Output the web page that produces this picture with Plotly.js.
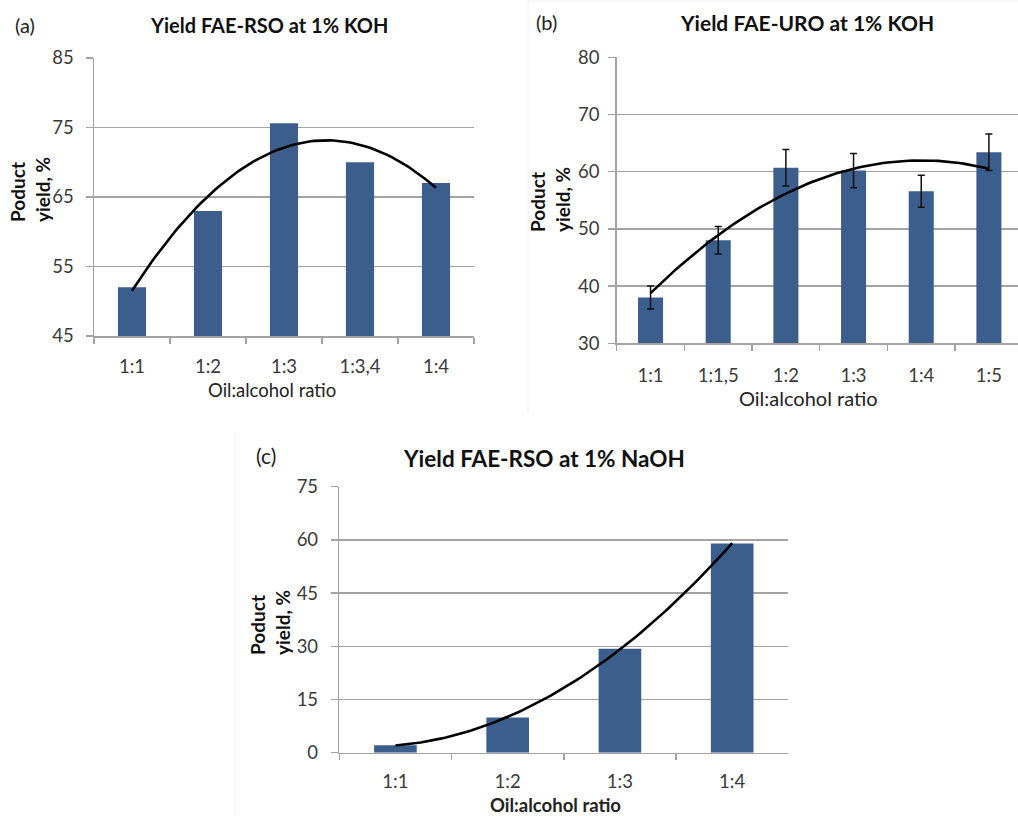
<!DOCTYPE html>
<html><head><meta charset="utf-8">
<script src="https://cdn.plot.ly/plotly-3.0.1.min.js"></script>
<style>html,body{margin:0;padding:0;background:#fff}</style>
</head><body><div id="chart" style="width:1018px;height:816px"></div>
<script>
// ---- data ----
const catsA = ['1:1', '1:2', '1:3', '1:3,4', '1:4'];
const yieldA = [52, 63, 75.6, 70, 67];

const catsB = ['1:1', '1:1,5', '1:2', '1:3', '1:4', '1:5'];
const yieldB = [38, 48, 60.7, 60.2, 56.6, 63.4];
const errB = [2, 2.4, 3.2, 3, 2.8, 3.2];

const catsC = ['1:1', '1:2', '1:3', '1:4'];
const yieldC = [2.1, 9.9, 29.3, 59];

const titleA = 'Yield FAE-RSO at 1% KOH';
const titleB = 'Yield FAE-URO at 1% KOH';
const titleC = 'Yield FAE-RSO at 1% NaOH';
const yTitle = 'Poduct<br>yield, %';
const xTitle = 'Oil:alcohol ratio';

// ---- 2nd-order polynomial trendline (least squares on the bar values) ----
function quadFit(y) {
  const n = y.length;
  let S = [0, 0, 0, 0, 0], T = [0, 0, 0];
  for (let i = 0; i < n; i++) {
    for (let p = 0; p < 5; p++) S[p] += Math.pow(i, p);
    for (let p = 0; p < 3; p++) T[p] += Math.pow(i, p) * y[i];
  }
  const M = [[S[0], S[1], S[2], T[0]], [S[1], S[2], S[3], T[1]], [S[2], S[3], S[4], T[2]]];
  for (let c = 0; c < 3; c++) {
    for (let r = c + 1; r < 3; r++) {
      const f = M[r][c] / M[c][c];
      for (let k = c; k < 4; k++) M[r][k] -= f * M[c][k];
    }
  }
  const x = [0, 0, 0];
  for (let r = 2; r >= 0; r--) {
    let s = M[r][3];
    for (let k = r + 1; k < 3; k++) s -= M[r][k] * x[k];
    x[r] = s / M[r][r];
  }
  return x;
}
function trend(y) {
  const c = quadFit(y), xs = [], ys = [];
  const steps = 80, last = y.length - 1;
  for (let i = 0; i <= steps; i++) {
    const t = last * i / steps;
    xs.push(t); ys.push(c[0] + c[1] * t + c[2] * t * t);
  }
  return {xs, ys};
}

const FONT = 'Lato, "Open Sans", sans-serif';
const BAR = '#3b5e8d';
const GRID = '#a3a3a3';
const TICKF = {family: FONT, size: 18.5, color: '#3a3a3a'};

const W = 1018, H = 816;
const px = v => v / W, py = v => 1 - v / H;

const tA = trend(yieldA), tB = trend(yieldB), tC = trend(yieldC);

const traces = [
  {type: 'bar', x: catsA, y: yieldA, xaxis: 'x', yaxis: 'y', width: 0.37,
   marker: {color: BAR}},
  {type: 'scatter', mode: 'lines', x: tA.xs, y: tA.ys, xaxis: 'x4', yaxis: 'y',
   line: {color: '#000', width: 2.6}},
  {type: 'bar', x: catsB, y: yieldB, xaxis: 'x2', yaxis: 'y2', width: 0.37,
   marker: {color: BAR},
   error_y: {type: 'data', array: errB, visible: true, color: '#111', thickness: 1.5, width: 3.5}},
  {type: 'scatter', mode: 'lines', x: tB.xs, y: tB.ys, xaxis: 'x5', yaxis: 'y2',
   line: {color: '#000', width: 2.6}},
  {type: 'bar', x: catsC, y: yieldC, xaxis: 'x3', yaxis: 'y3', width: 0.38,
   marker: {color: BAR}},
  {type: 'scatter', mode: 'lines', x: tC.xs, y: tC.ys, xaxis: 'x6', yaxis: 'y3',
   line: {color: '#000', width: 2.6}}
];

function xcat(domain, range, anchor, standoff) {
  return {type: 'category', domain, range, anchor, tickson: 'boundaries',
    ticks: 'outside', ticklen: 6, tickwidth: 1.5, tickcolor: GRID,
    showline: true, linecolor: GRID, linewidth: 1.5, showgrid: false,
    tickfont: TICKF, ticklabelstandoff: standoff, fixedrange: true};
}
function xover(over, range, anchor) {
  return {overlaying: over, range, anchor, visible: false, type: 'linear', fixedrange: true};
}
function ylin(domain, range, dtick, anchor, standoff) {
  return {domain, range, dtick, tick0: range[0], anchor, showgrid: true,
    gridcolor: GRID, gridwidth: 1.5, zeroline: false, showline: true,
    linecolor: GRID, linewidth: 1.5, ticks: 'outside', ticklen: 7, tickwidth: 1.5,
    tickcolor: GRID, tickfont: TICKF, ticklabelstandoff: standoff, fixedrange: true};
}

const rA = [-0.5, 4.5], rB = [-0.5, 5.43], rC = [-0.5, 3.5];

function note(text, x, y, size, extra) {
  return Object.assign({text, x: px(x), y: py(y), xref: 'paper', yref: 'paper',
    xanchor: 'center', yanchor: 'middle', showarrow: false,
    font: {family: FONT, size, color: '#111'}}, extra || {});
}

const layout = {
  width: W, height: H, margin: {l: 0, r: 0, t: 0, b: 0},
  paper_bgcolor: '#fff', plot_bgcolor: 'rgba(0,0,0,0)', showlegend: false,
  font: {family: FONT},
  xaxis: xcat([px(94), px(474)], rA, 'y', 13),
  yaxis: ylin([py(336), py(58)], [45, 85], 10, 'x', 8),
  xaxis2: xcat([px(616.7), 1], rB, 'y2', 15),
  yaxis2: ylin([py(343.3), py(57.3)], [30, 80], 10, 'x2', 5),
  xaxis3: xcat([px(339.3), px(788.3)], rC, 'y3', 12),
  yaxis3: ylin([py(752.7), py(486.7)], [0, 75], 15, 'x3', 9),
  xaxis4: xover('x', rA, 'y'),
  xaxis5: xover('x2', rB, 'y2'),
  xaxis6: xover('x3', rC, 'y3'),
  shapes: [
    {type: 'line', xref: 'paper', yref: 'paper', x0: px(528), x1: px(528), y0: py(1), y1: py(413),
     line: {color: '#f0f0f0', width: 1}},
    {type: 'line', xref: 'paper', yref: 'paper', x0: px(528), x1: 1, y0: py(1), y1: py(1),
     line: {color: '#f0f0f0', width: 1}},
    {type: 'line', xref: 'paper', yref: 'paper', x0: px(235), x1: px(235), y0: py(432), y1: py(816),
     line: {color: '#f3f3f3', width: 1}}
  ],
  annotations: [
    // panel labels
    note('(a)', 25, 25, 20, {font: {family: FONT, size: 20, color: '#222'}}),
    note('(b)', 546, 22, 20, {font: {family: FONT, size: 20, color: '#222'}}),
    note('(c)', 266, 455, 21, {font: {family: FONT, size: 21, color: '#222'}}),
    // titles
    note('<b>' + titleA + '</b>', 269, 25, 20),
    note('<b>' + titleB + '</b>', 807, 22, 21),
    note('<b>' + titleC + '</b>', 544, 458, 22.5),
    // y titles
    note('<b>' + yTitle + '</b>', 30, 190, 19, {textangle: -90, align: 'left'}),
    note('<b>' + yTitle + '</b>', 550, 200, 19, {textangle: -90, align: 'left'}),
    note('<b>' + yTitle + '</b>', 270, 623, 19, {textangle: -90, align: 'left'}),
    // x titles
    note(xTitle, 272, 390, 18.5, {font: {family: FONT, size: 18.5, color: '#222'}}),
    note(xTitle, 808, 398, 20, {font: {family: FONT, size: 20, color: '#222'}}),
    note('<b>' + xTitle + '</b>', 555, 805, 18.5, {font: {family: FONT, size: 18.5, color: '#222'}})
  ]
};

Plotly.newPlot('chart', traces, layout, {staticPlot: true, displayModeBar: false});
</script>
</body></html>
